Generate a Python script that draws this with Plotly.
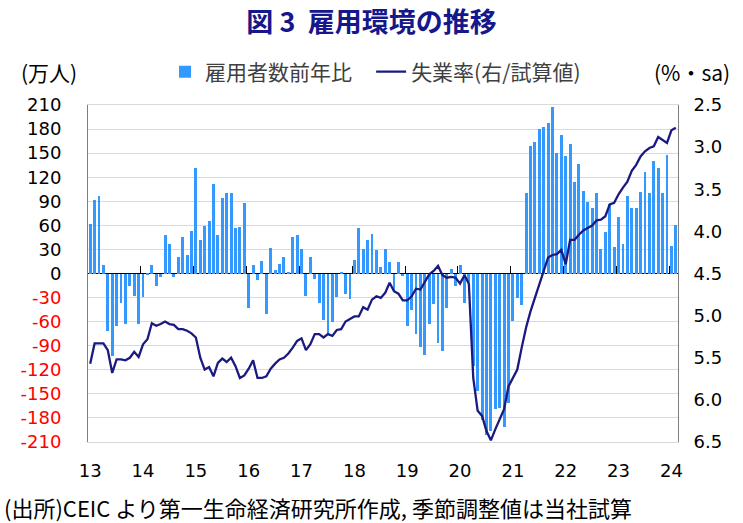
import plotly.graph_objects as go

year_labels = ["13", "14", "15", "16", "17", "18", "19", "20", "21", "22", "23", "24"]

# 雇用者数前年比 (万人), monthly from Jan 2013 to Feb 2024
emp_change = [
    62, 92, 97, 10, -72, -103, -66, -37, -63, -16, -28, -63,          # 2013
    -29, -2, 10, -16, -4, 48, 37, -4, 20, 45, 23, 53,                  # 2014
    132, 42, 59, 66, 111, 48, 94, 100, 100, 57, 58, 88,               # 2015
    -43, 11, -8, 15, -50, 32, 4, 12, 20, 2, 45, 48,                    # 2016
    30, -28, 21, -7, -37, -58, -75, -61, -29, 2, -26, -32,            # 2017
    17, 57, 30, 42, 49, 29, 8, 30, 14, -22, 14, -3,                    # 2018
    -66, -46, -75, -92, -101, -63, -38, -86, -97, -43, 5, -15,         # 2019
    11, -37, -10, -115, -147, -182, -201, -196, -169, -167, -191, -162,  # 2020
    -59, -31, -39, 100, 159, 164, 180, 183, 188, 207, 150, 172,        # 2021
    147, 161, 114, 136, 103, 89, 82, 100, 31, 52, 87, 33,              # 2022
    70, 37, 97, 82, 82, 102, 127, 100, 140, 131, 100, 148,             # 2023
    34, 61,                                                            # 2024
]

# 失業率 (%, sa, 試算値)
unemp_rate = [
    5.57, 5.33, 5.33, 5.33, 5.41, 5.68, 5.52, 5.52, 5.53, 5.50, 5.43, 5.49,
    5.34, 5.28, 5.09, 5.12, 5.10, 5.07, 5.10, 5.11, 5.16, 5.16, 5.18, 5.21,
    5.26, 5.50, 5.64, 5.61, 5.72, 5.56, 5.51, 5.55, 5.50, 5.60, 5.74, 5.71,
    5.63, 5.53, 5.74, 5.74, 5.72, 5.63, 5.57, 5.52, 5.50, 5.45, 5.38, 5.30,
    5.27, 5.41, 5.34, 5.22, 5.22, 5.26, 5.22, 5.24, 5.17, 5.16, 5.07, 5.04,
    5.01, 5.01, 4.90, 4.93, 4.81, 4.77, 4.79, 4.73, 4.61, 4.71, 4.74, 4.82,
    4.82, 4.77, 4.68, 4.69, 4.60, 4.51, 4.47, 4.41, 4.52, 4.55, 4.54, 4.55,
    4.62, 4.52, 4.62, 5.74, 6.13, 6.19, 6.37, 6.48, 6.35, 6.23, 6.11, 5.84,
    5.74, 5.64, 5.38, 5.14, 4.95, 4.79, 4.65, 4.47, 4.31, 4.28, 4.27, 4.22,
    4.39, 4.10, 4.10, 4.04, 3.99, 3.96, 3.93, 3.87, 3.86, 3.82, 3.68, 3.66,
    3.56, 3.48, 3.41, 3.28, 3.21, 3.11, 3.05, 3.01, 2.99, 2.88, 2.92, 2.95,
    2.80, 2.77,
]

left_ticks = list(range(-210, 211, 30))
right_ticks = [2.5, 3.0, 3.5, 4.0, 4.5, 5.0, 5.5, 6.0, 6.5]

months = list(range(len(emp_change)))
year_starts = [12 * k for k in range(len(year_labels))]
year_bounds = [12 * k - 0.5 for k in range(1, len(year_labels))]

FONT = "Noto Sans CJK JP"
NUMFONT = "DejaVu Sans"

fig = go.Figure()
fig.add_trace(go.Bar(
    x=months, y=emp_change, name="雇用者数前年比\u00a0\u00a0\u00a0",
    marker=dict(color="#3399FF", line=dict(width=0)), width=0.66,
    yaxis="y", xaxis="x",
))
fig.add_trace(go.Scatter(
    x=months, y=unemp_rate, name="失業率(右/試算値)", mode="lines",
    line=dict(color="#1A1A80", width=2.3), yaxis="y2", xaxis="x",
))
# carrier trace for the zero-line tick axis
fig.add_trace(go.Scatter(
    x=year_bounds, y=[0] * len(year_bounds), xaxis="x2", yaxis="y",
    mode="markers", marker=dict(opacity=0), showlegend=False, hoverinfo="skip",
))

left_text = [
    (f'<span style="color:#FF0000">{v}</span>' if v < 0 else str(v)) for v in left_ticks
]

tickfont = dict(family=NUMFONT, size=18, color="#000000")

fig.update_layout(
    width=743, height=523,
    margin=dict(l=88, r=65, t=105, b=81, autoexpand=False),
    paper_bgcolor="white", plot_bgcolor="white",
    font=dict(family=FONT, size=20, color="#000000"),
    bargap=0,
    title=dict(
        text="<b>図 3  雇用環境の推移</b>", x=0.5, xref="container", xanchor="center",
        y=1 - 23 / 523, yref="container", yanchor="middle",
        font=dict(family=FONT, size=27, color="#17178C"),
    ),
    xaxis=dict(
        range=[-0.5, len(months) - 0.5], automargin=False,
        tickmode="array", tickvals=year_starts, ticktext=year_labels,
        ticks="", showgrid=False, zeroline=False,
        showline=True, linecolor="#D9D9D9", linewidth=1, mirror=True,
        tickfont=tickfont, ticklabelstandoff=12,
    ),
    xaxis2=dict(
        overlaying="x", anchor="free", position=0.5, side="bottom",
        range=[-0.5, len(months) - 0.5],
        tickmode="array", tickvals=year_bounds, ticks="inside", ticklen=8,
        tickcolor="#000000", tickwidth=1, showticklabels=False,
        showgrid=False, zeroline=False, showline=False,
    ),
    yaxis=dict(
        range=[-210, 210], automargin=False,
        tickmode="array", tickvals=left_ticks, ticktext=left_text,
        showgrid=True, gridcolor="#D9D9D9", gridwidth=1,
        zeroline=True, zerolinecolor="#000000", zerolinewidth=1,
        showline=True, linecolor="#7F7F7F", linewidth=1,
        ticks="", tickfont=tickfont, ticklabelstandoff=22,
    ),
    yaxis2=dict(
        overlaying="y", side="right", range=[6.5, 2.5], automargin=False,
        tickmode="array", tickvals=right_ticks, ticktext=[f"{v:.1f}" for v in right_ticks],
        showgrid=False, zeroline=False,
        showline=True, linecolor="#7F7F7F", linewidth=1,
        ticks="", tickfont=tickfont, ticklabelstandoff=11,
    ),
    legend=dict(
        orientation="h", x=(165 - 88) / 590, xanchor="left", y=(442 - 72) / 337, yanchor="middle",
        font=dict(size=21, color="#404040"), bgcolor="rgba(0,0,0,0)",
        itemwidth=30, traceorder="normal",
    ),
    annotations=[
        dict(text="(万人)", x=(49 - 88) / 590, y=(442 - 72) / 337, xref="paper", yref="paper",
             xanchor="center", yanchor="middle", showarrow=False, font=dict(size=21)),
        dict(text="(%・sa)", x=(692 - 88) / 590, y=(442 - 72) / 337, xref="paper", yref="paper",
             xanchor="center", yanchor="middle", showarrow=False, font=dict(size=21)),
        dict(text="(出所)CEIC より第一生命経済研究所作成, 季節調整値は当社試算",
             x=(2 - 88) / 590, y=(442 - 507) / 337, xref="paper", yref="paper",
             xanchor="left", yanchor="middle", showarrow=False, font=dict(size=22)),
    ],
)

fig.write_html("out.html", config={"displayModeBar": False},
               post_script="document.body.style.margin='0';")
